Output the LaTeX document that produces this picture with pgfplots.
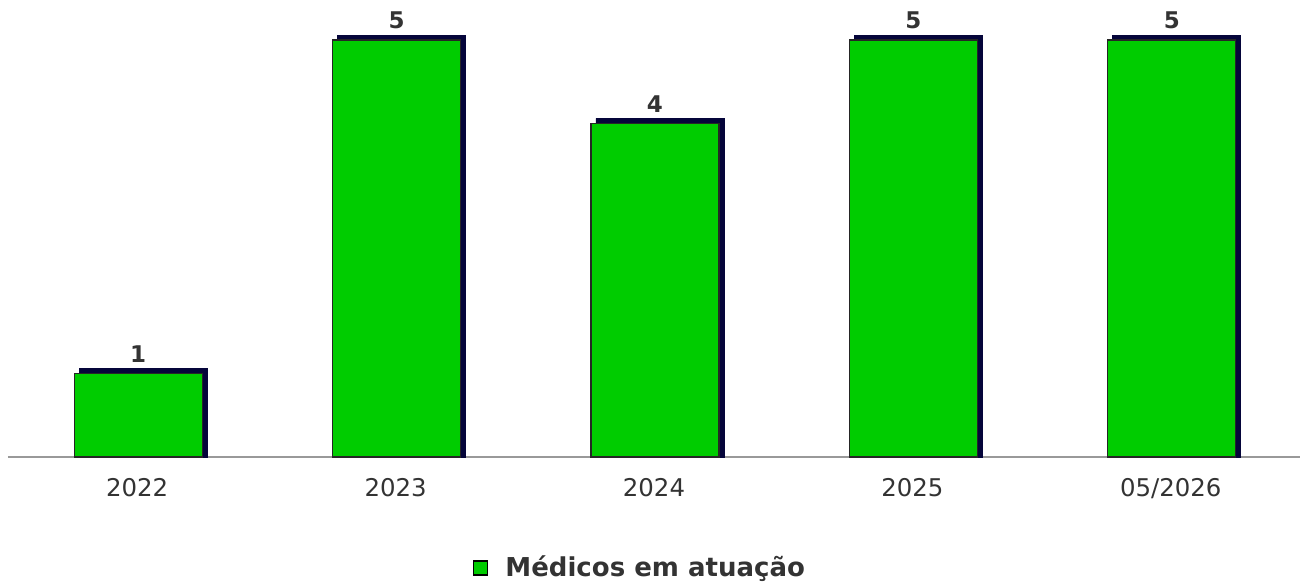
\documentclass[border=0pt]{standalone}
\usepackage{pgfplots}
\pgfplotsset{compat=1.18}
\usepackage{fontspec}
\setmainfont{DejaVu Sans}
\definecolor{bargreen}{HTML}{00CC00}
\definecolor{shadow}{HTML}{05053A}
\definecolor{txt}{HTML}{333333}
\definecolor{axisgray}{HTML}{999999}
\begin{document}
\begin{tikzpicture}
\useasboundingbox (-4pt,-63.5pt) rectangle (647.5pt,228.5pt);
\begin{axis}[
  at={(0,0)}, anchor=south west,
  scale only axis, width=646pt, height=228.5pt,
  xmin=-0.5, xmax=4.5, ymin=0, ymax=5.48,
  axis x line*=bottom, hide y axis,
  x axis line style={-, draw=axisgray, line width=0.6pt},
  xtick={0,1,2,3,4},
  xticklabels={2022,2023,2024,2025,05/2026},
  major tick length=0pt,
  xticklabel style={font=\fontsize{12.2}{14}\selectfont, text=txt, yshift=-7pt},
  /pgf/number format/assume math mode=true,
  ybar, bar width=64pt,
  clip=false,
  legend style={draw=none, fill=none, at={(0.49,-0.243)}, anchor=center,
    font=\fontsize{13}{15}\selectfont\bfseries, text=txt},
  legend image code/.code={\draw[fill=bargreen, draw=black, line width=0.6pt] (0pt,-3.5pt) rectangle (7pt,3.5pt);},
]
\addplot[forget plot, fill=shadow, draw=shadow, bar shift=3pt]
  coordinates {(0,1.06) (1,5.06) (2,4.06) (3,5.06) (4,5.06)};
\addplot[fill=bargreen, draw=black!85, line width=0.6pt, bar shift=0.5pt,
  nodes near coords, every node near coord/.append style={font=\fontsize{11.5}{14}\selectfont\bfseries, text=txt, yshift=2pt}]
  coordinates {(0,1) (1,5) (2,4) (3,5) (4,5)};
\addlegendentry{\hspace{6.5pt}Médicos em atuação}
\end{axis}
\end{tikzpicture}
\end{document}
